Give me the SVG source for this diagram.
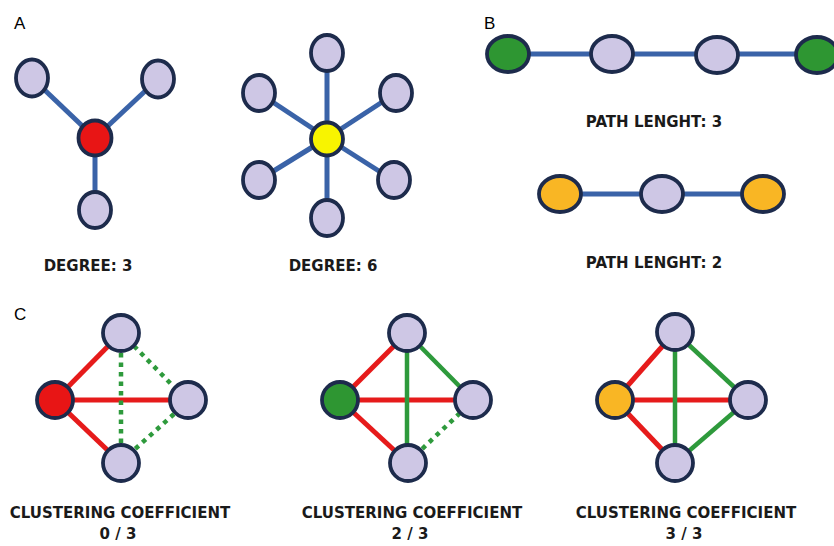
<svg xmlns="http://www.w3.org/2000/svg" width="834" height="546" viewBox="0 0 834 546">
  <style>
    .n { fill: #cec7e5; stroke: #1d2b4c; stroke-width: 3.8; }
    .red-n { fill: #e81515; }
    .yel-n { fill: #f8f400; }
    .grn-n { fill: #2e9632; }
    .org-n { fill: #f9b624; }
    .e { stroke: #3a63a8; stroke-width: 5; fill: none; }
    .er { stroke: #e61b1b; stroke-width: 5; fill: none; }
    .eg { stroke: #2e9a3c; stroke-width: 4.5; fill: none; }
    .ed { stroke: #2e9a3c; stroke-width: 4.5; fill: none; stroke-dasharray: 4.5 5; }
    .panel { font-family: "Liberation Sans", Arial, sans-serif; font-size: 17px; fill: #000; }
    .lbl { font-family: "DejaVu Sans", "Open Sans", sans-serif; font-weight: bold; font-size: 15px; fill: #1a1a1a; text-anchor: middle; }
  </style>
  <rect width="834" height="546" fill="#fff"/>

  <!-- panel letters -->
  <text class="panel" x="14" y="29">A</text>
  <text class="panel" x="484" y="29">B</text>
  <text class="panel" x="14" y="320">C</text>

  <!-- connectors -->
  <g id="connectors">
    <!-- degree 3 -->
    <line class="e" x1="32" y1="78" x2="95" y2="138"/>
    <line class="e" x1="158" y1="79" x2="95" y2="138"/>
    <line class="e" x1="95" y1="138" x2="95" y2="209"/>
    <!-- degree 6 -->
    <line class="e" x1="327" y1="53" x2="327" y2="218"/>
    <line class="e" x1="259" y1="93" x2="327" y2="138"/>
    <line class="e" x1="396" y1="93" x2="327" y2="138"/>
    <line class="e" x1="259" y1="180" x2="327" y2="138"/>
    <line class="e" x1="393" y1="180" x2="327" y2="138"/>
    <!-- path length 3 -->
    <line class="e" x1="508" y1="54" x2="815" y2="54"/>
    <!-- path length 2 -->
    <line class="e" x1="560" y1="194" x2="763" y2="194"/>
    <!-- clustering 0/3 -->
    <line class="er" x1="55" y1="400" x2="121" y2="333"/>
    <line class="er" x1="55" y1="400" x2="188" y2="400"/>
    <line class="er" x1="55" y1="400" x2="121" y2="463"/>
    <line class="ed" x1="121" y1="353" x2="121" y2="444"/>
    <line class="ed" x1="134" y1="346" x2="174" y2="387"/>
    <line class="ed" x1="174" y1="414" x2="134" y2="450"/>
    <!-- clustering 2/3 -->
    <line class="er" x1="340" y1="400" x2="407" y2="333"/>
    <line class="er" x1="340" y1="400" x2="473" y2="400"/>
    <line class="er" x1="340" y1="400" x2="408" y2="463"/>
    <line class="eg" x1="407" y1="333" x2="407" y2="463"/>
    <line class="eg" x1="407" y1="333" x2="473" y2="400"/>
    <line class="ed" x1="460" y1="413" x2="421" y2="450"/>
    <!-- clustering 3/3 -->
    <line class="er" x1="615" y1="400" x2="675" y2="332"/>
    <line class="er" x1="615" y1="400" x2="748" y2="400"/>
    <line class="er" x1="615" y1="400" x2="675" y2="463"/>
    <line class="eg" x1="675" y1="332" x2="675" y2="463"/>
    <line class="eg" x1="675" y1="332" x2="748" y2="400"/>
    <line class="eg" x1="748" y1="400" x2="675" y2="463"/>
  </g>

  <!-- degree 3 star -->
  <g id="deg3-a"><ellipse class="n" cx="32" cy="78" rx="16" ry="18.5"/></g>
  <g id="deg3-b"><ellipse class="n" cx="158" cy="79" rx="16" ry="18.5"/></g>
  <g id="deg3-c"><ellipse class="n" cx="95" cy="210" rx="16" ry="18"/></g>
  <g id="deg3-hub"><ellipse class="n red-n" cx="95" cy="138" rx="16.5" ry="17.5"/></g>

  <!-- degree 6 star -->
  <g id="deg6-top"><ellipse class="n" cx="327" cy="53" rx="16" ry="18"/></g>
  <g id="deg6-tl"><ellipse class="n" cx="259" cy="93" rx="16" ry="18"/></g>
  <g id="deg6-tr"><ellipse class="n" cx="396" cy="93" rx="16" ry="18"/></g>
  <g id="deg6-bl"><ellipse class="n" cx="259" cy="180" rx="16" ry="18"/></g>
  <g id="deg6-br"><ellipse class="n" cx="394" cy="180" rx="16" ry="18"/></g>
  <g id="deg6-bot"><ellipse class="n" cx="327" cy="218" rx="16" ry="18"/></g>
  <g id="deg6-hub"><ellipse class="n yel-n" cx="327" cy="139" rx="16" ry="16.5"/></g>

  <!-- path length 3 -->
  <g id="p3-start"><ellipse class="n grn-n" cx="508" cy="54" rx="21" ry="18"/></g>
  <g id="p3-1"><ellipse class="n" cx="612" cy="54" rx="21" ry="18"/></g>
  <g id="p3-2"><ellipse class="n" cx="717" cy="55" rx="21" ry="18"/></g>
  <g id="p3-end"><ellipse class="n grn-n" cx="817" cy="55" rx="21" ry="18"/></g>

  <!-- path length 2 -->
  <g id="p2-start"><ellipse class="n org-n" cx="560" cy="194" rx="21" ry="18"/></g>
  <g id="p2-1"><ellipse class="n" cx="662" cy="194" rx="21" ry="18"/></g>
  <g id="p2-end"><ellipse class="n org-n" cx="763" cy="194" rx="21" ry="18"/></g>

  <!-- clustering 0/3 -->
  <g id="c0-top"><ellipse class="n" cx="121" cy="333" rx="18" ry="18"/></g>
  <g id="c0-right"><ellipse class="n" cx="188" cy="400" rx="18" ry="18"/></g>
  <g id="c0-bot"><ellipse class="n" cx="121" cy="463" rx="18" ry="18"/></g>
  <g id="c0-hub"><ellipse class="n red-n" cx="55" cy="400" rx="18" ry="18"/></g>

  <!-- clustering 2/3 -->
  <g id="c2-top"><ellipse class="n" cx="407" cy="333" rx="18" ry="18"/></g>
  <g id="c2-right"><ellipse class="n" cx="473" cy="400" rx="18" ry="18"/></g>
  <g id="c2-bot"><ellipse class="n" cx="408" cy="463" rx="18" ry="18"/></g>
  <g id="c2-hub"><ellipse class="n grn-n" cx="340" cy="400" rx="18" ry="18"/></g>

  <!-- clustering 3/3 -->
  <g id="c3-top"><ellipse class="n" cx="675" cy="332" rx="18" ry="18"/></g>
  <g id="c3-right"><ellipse class="n" cx="748" cy="400" rx="18" ry="18"/></g>
  <g id="c3-bot"><ellipse class="n" cx="675" cy="463" rx="18" ry="18"/></g>
  <g id="c3-hub"><ellipse class="n org-n" cx="615" cy="400" rx="18" ry="18"/></g>

  <!-- captions -->
  <text class="lbl" x="88" y="271">DEGREE:  3</text>
  <text class="lbl" x="333" y="271">DEGREE:  6</text>
  <text class="lbl" x="654" y="127">PATH LENGHT: 3</text>
  <text class="lbl" x="654" y="268">PATH LENGHT: 2</text>
  <text class="lbl" x="120" y="518">CLUSTERING  COEFFICIENT</text>
  <text class="lbl" x="118" y="539">0 / 3</text>
  <text class="lbl" x="412" y="518">CLUSTERING  COEFFICIENT</text>
  <text class="lbl" x="410" y="539">2 / 3</text>
  <text class="lbl" x="686" y="518">CLUSTERING  COEFFICIENT</text>
  <text class="lbl" x="684" y="539">3 / 3</text>
</svg>
